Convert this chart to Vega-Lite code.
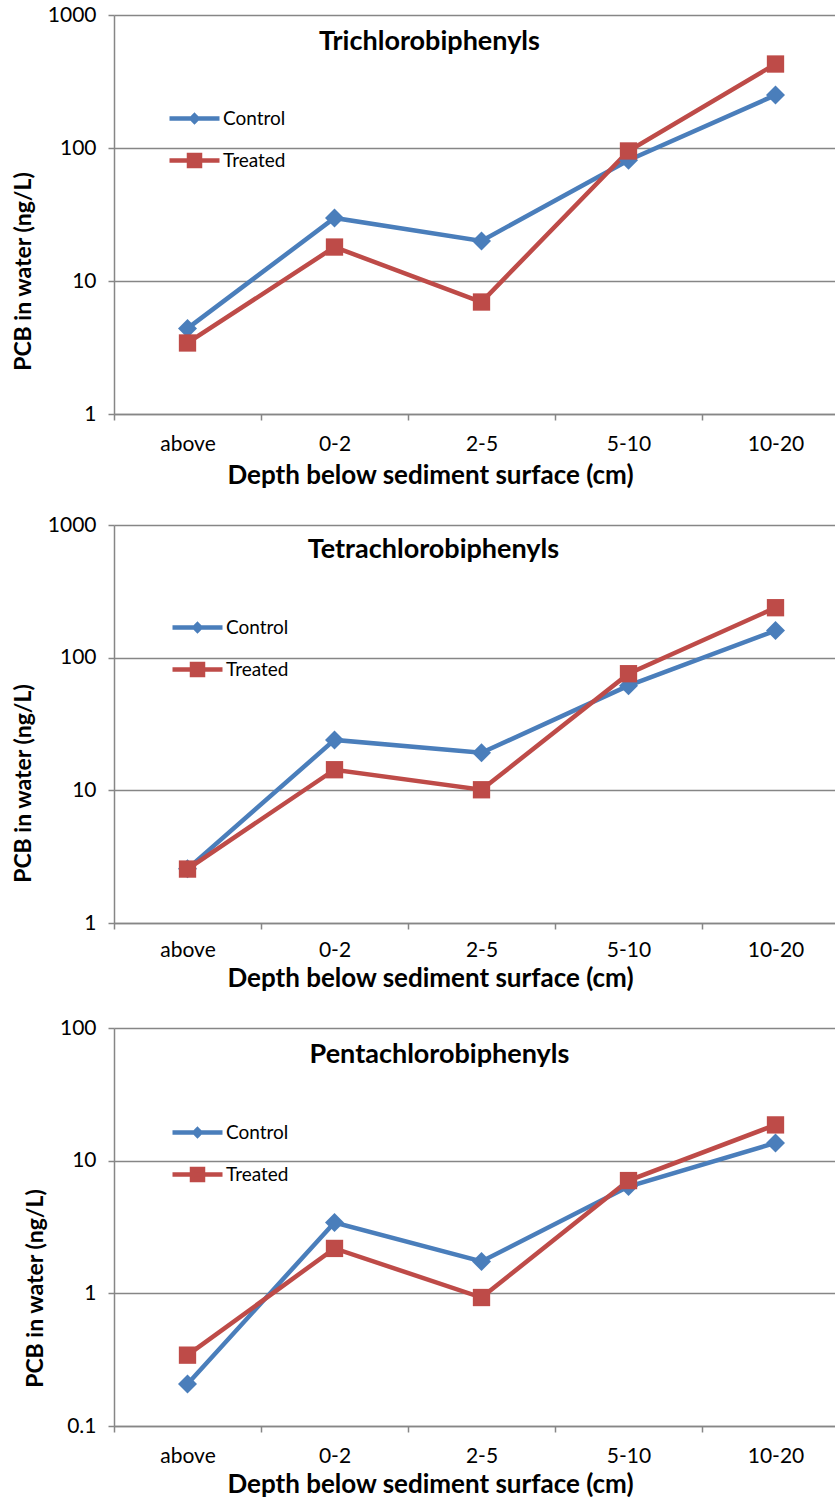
{
  "$schema": "https://vega.github.io/schema/vega-lite/v6.json",
  "padding": {"left": 12, "top": 4, "right": -11, "bottom": 0},
  "spacing": 26,
  "background": "white",
  "datasets": {
    "pcb": [
      {"panel": "Trichlorobiphenyls", "depth": "above", "series": "Control", "value": 4.4},
      {"panel": "Trichlorobiphenyls", "depth": "0-2", "series": "Control", "value": 29.8},
      {"panel": "Trichlorobiphenyls", "depth": "2-5", "series": "Control", "value": 20.0},
      {"panel": "Trichlorobiphenyls", "depth": "5-10", "series": "Control", "value": 81},
      {"panel": "Trichlorobiphenyls", "depth": "10-20", "series": "Control", "value": 250},
      {"panel": "Trichlorobiphenyls", "depth": "above", "series": "Treated", "value": 3.42},
      {"panel": "Trichlorobiphenyls", "depth": "0-2", "series": "Treated", "value": 18.0},
      {"panel": "Trichlorobiphenyls", "depth": "2-5", "series": "Treated", "value": 6.95},
      {"panel": "Trichlorobiphenyls", "depth": "5-10", "series": "Treated", "value": 95},
      {"panel": "Trichlorobiphenyls", "depth": "10-20", "series": "Treated", "value": 428},
      {"panel": "Tetrachlorobiphenyls", "depth": "above", "series": "Control", "value": 2.56},
      {"panel": "Tetrachlorobiphenyls", "depth": "0-2", "series": "Control", "value": 24.0},
      {"panel": "Tetrachlorobiphenyls", "depth": "2-5", "series": "Control", "value": 19.2},
      {"panel": "Tetrachlorobiphenyls", "depth": "5-10", "series": "Control", "value": 61.5},
      {"panel": "Tetrachlorobiphenyls", "depth": "10-20", "series": "Control", "value": 160},
      {"panel": "Tetrachlorobiphenyls", "depth": "above", "series": "Treated", "value": 2.55},
      {"panel": "Tetrachlorobiphenyls", "depth": "0-2", "series": "Treated", "value": 14.3},
      {"panel": "Tetrachlorobiphenyls", "depth": "2-5", "series": "Treated", "value": 10.1},
      {"panel": "Tetrachlorobiphenyls", "depth": "5-10", "series": "Treated", "value": 75.7},
      {"panel": "Tetrachlorobiphenyls", "depth": "10-20", "series": "Treated", "value": 238},
      {"panel": "Pentachlorobiphenyls", "depth": "above", "series": "Control", "value": 0.207},
      {"panel": "Pentachlorobiphenyls", "depth": "0-2", "series": "Control", "value": 3.42},
      {"panel": "Pentachlorobiphenyls", "depth": "2-5", "series": "Control", "value": 1.74},
      {"panel": "Pentachlorobiphenyls", "depth": "5-10", "series": "Control", "value": 6.38},
      {"panel": "Pentachlorobiphenyls", "depth": "10-20", "series": "Control", "value": 13.6},
      {"panel": "Pentachlorobiphenyls", "depth": "above", "series": "Treated", "value": 0.342},
      {"panel": "Pentachlorobiphenyls", "depth": "0-2", "series": "Treated", "value": 2.18},
      {"panel": "Pentachlorobiphenyls", "depth": "2-5", "series": "Treated", "value": 0.93},
      {"panel": "Pentachlorobiphenyls", "depth": "5-10", "series": "Treated", "value": 7.08},
      {"panel": "Pentachlorobiphenyls", "depth": "10-20", "series": "Treated", "value": 18.6}
    ]
  },
  "config": {
    "font": "Lato",
    "view": {"stroke": null},
    "axis": {
      "domainColor": "#868686",
      "domainWidth": 1.5,
      "tickColor": "#868686",
      "tickWidth": 1.5,
      "tickSize": 6,
      "gridColor": "#868686",
      "gridWidth": 1.5,
      "labelFont": "Lato",
      "labelFontSize": 21,
      "labelColor": "black",
      "titleFont": "Lato",
      "titleFontWeight": "bold",
      "titleColor": "black"
    },
    "axisX": {"titleFontSize": 26},
    "axisY": {"titleFontSize": 23},
    "legend": {
      "orient": "none", "title": null, "padding": 0, "symbolSize": 400,
      "labelFontSize": 19, "labelFont": "Lato", "labelColor": "black", "labelOffset": 16, "rowPadding": 15
    },
    "title": {"font": "Lato", "fontSize": 27, "fontWeight": "bold", "color": "black"}
  },
  "resolve": {
    "scale": {"x": "independent", "y": "independent", "color": "independent"},
    "legend": {"color": "independent"}
  },
  "vconcat": [
    {
      "width": 735,
      "height": 399,
      "data": {"name": "pcb"},
      "transform": [{"filter": "datum.panel === 'Trichlorobiphenyls'"}],
      "title": {"text": "Trichlorobiphenyls", "frame": "group", "anchor": "middle", "dx": -52, "offset": -73, "baseline": "alphabetic"},
      "encoding": {
        "x": {"field": "depth", "type": "ordinal", "sort": ["above", "0-2", "2-5", "5-10", "10-20"],
              "scale": {"type": "band", "paddingInner": 0, "paddingOuter": 0},
              "axis": {"title": "Depth below sediment surface (cm)", "titleX": 316, "tickBand": "extent", "labelAngle": 0, "labelPadding": 13, "titlePadding": 8, "grid": false}},
        "y": {"field": "value", "type": "quantitative",
              "scale": {"type": "log", "domain": [1, 1000]},
              "axis": {"title": "PCB in water (ng/L)", "titleY": 256, "values": [1, 10, 100, 1000], "format": "~g", "labelPadding": 12, "titlePadding": 12, "grid": true}},
        "color": {"field": "series", "type": "nominal",
                  "scale": {"domain": ["Control", "Treated"], "range": ["#4A7EBB", "#BE4B48"]},
                  "legend": {"legendX": 68, "legendY": 91,
                             "encode": {"symbols": {"update": {
                               "shape": {"signal": "datum.value === 'Control' ? 'M-2.5,0H2.5M0,-0.3L0.3,0L0,0.3L-0.3,0Z' : 'M-2.5,0H2.5M-0.55,-0.55H0.55V0.55H-0.55Z'"},
                               "strokeWidth": {"value": 4.5},
                               "opacity": {"value": 1}}}}}}
      },
      "layer": [
        {"mark": {"type": "line", "strokeWidth": 4.5}},
        {"transform": [{"filter": "datum.series === 'Control'"}],
         "mark": {"type": "point", "shape": "diamond", "size": 360, "filled": true, "opacity": 1}},
        {"transform": [{"filter": "datum.series === 'Treated'"}],
         "mark": {"type": "point", "shape": "square", "size": 300, "filled": true, "opacity": 1}}
      ]
    },
    {
      "width": 735,
      "height": 398,
      "data": {"name": "pcb"},
      "transform": [{"filter": "datum.panel === 'Tetrachlorobiphenyls'"}],
      "title": {"text": "Tetrachlorobiphenyls", "frame": "group", "anchor": "middle", "dx": -48, "offset": -71, "baseline": "alphabetic"},
      "encoding": {
        "x": {"field": "depth", "type": "ordinal", "sort": ["above", "0-2", "2-5", "5-10", "10-20"],
              "scale": {"type": "band", "paddingInner": 0, "paddingOuter": 0},
              "axis": {"title": "Depth below sediment surface (cm)", "titleX": 316, "tickBand": "extent", "labelAngle": 0, "labelPadding": 10, "titlePadding": 5, "grid": false}},
        "y": {"field": "value", "type": "quantitative",
              "scale": {"type": "log", "domain": [1, 1000]},
              "axis": {"title": "PCB in water (ng/L)", "titleY": 258, "values": [1, 10, 100, 1000], "format": "~g", "labelPadding": 12, "titlePadding": 12, "grid": true}},
        "color": {"field": "series", "type": "nominal",
                  "scale": {"domain": ["Control", "Treated"], "range": ["#4A7EBB", "#BE4B48"]},
                  "legend": {"legendX": 71, "legendY": 90,
                             "encode": {"symbols": {"update": {
                               "shape": {"signal": "datum.value === 'Control' ? 'M-2.5,0H2.5M0,-0.3L0.3,0L0,0.3L-0.3,0Z' : 'M-2.5,0H2.5M-0.55,-0.55H0.55V0.55H-0.55Z'"},
                               "strokeWidth": {"value": 4.5},
                               "opacity": {"value": 1}}}}}}
      },
      "layer": [
        {"mark": {"type": "line", "strokeWidth": 4.5}},
        {"transform": [{"filter": "datum.series === 'Control'"}],
         "mark": {"type": "point", "shape": "diamond", "size": 360, "filled": true, "opacity": 1}},
        {"transform": [{"filter": "datum.series === 'Treated'"}],
         "mark": {"type": "point", "shape": "square", "size": 300, "filled": true, "opacity": 1}}
      ]
    },
    {
      "width": 735,
      "height": 398,
      "data": {"name": "pcb"},
      "transform": [{"filter": "datum.panel === 'Pentachlorobiphenyls'"}],
      "title": {"text": "Pentachlorobiphenyls", "frame": "group", "anchor": "middle", "dx": -42, "offset": -73, "baseline": "alphabetic"},
      "encoding": {
        "x": {"field": "depth", "type": "ordinal", "sort": ["above", "0-2", "2-5", "5-10", "10-20"],
              "scale": {"type": "band", "paddingInner": 0, "paddingOuter": 0},
              "axis": {"title": "Depth below sediment surface (cm)", "titleX": 316, "tickBand": "extent", "labelAngle": 0, "labelPadding": 13, "titlePadding": 5, "grid": false}},
        "y": {"field": "value", "type": "quantitative",
              "scale": {"type": "log", "domain": [0.1, 100]},
              "axis": {"title": "PCB in water (ng/L)", "titleY": 260, "values": [0.1, 1, 10, 100], "format": "~g", "labelPadding": 12, "titlePadding": 12, "grid": true}},
        "color": {"field": "series", "type": "nominal",
                  "scale": {"domain": ["Control", "Treated"], "range": ["#4A7EBB", "#BE4B48"]},
                  "legend": {"legendX": 71, "legendY": 92,
                             "encode": {"symbols": {"update": {
                               "shape": {"signal": "datum.value === 'Control' ? 'M-2.5,0H2.5M0,-0.3L0.3,0L0,0.3L-0.3,0Z' : 'M-2.5,0H2.5M-0.55,-0.55H0.55V0.55H-0.55Z'"},
                               "strokeWidth": {"value": 4.5},
                               "opacity": {"value": 1}}}}}}
      },
      "layer": [
        {"mark": {"type": "line", "strokeWidth": 4.5}},
        {"transform": [{"filter": "datum.series === 'Control'"}],
         "mark": {"type": "point", "shape": "diamond", "size": 360, "filled": true, "opacity": 1}},
        {"transform": [{"filter": "datum.series === 'Treated'"}],
         "mark": {"type": "point", "shape": "square", "size": 300, "filled": true, "opacity": 1}}
      ]
    }
  ]
}
